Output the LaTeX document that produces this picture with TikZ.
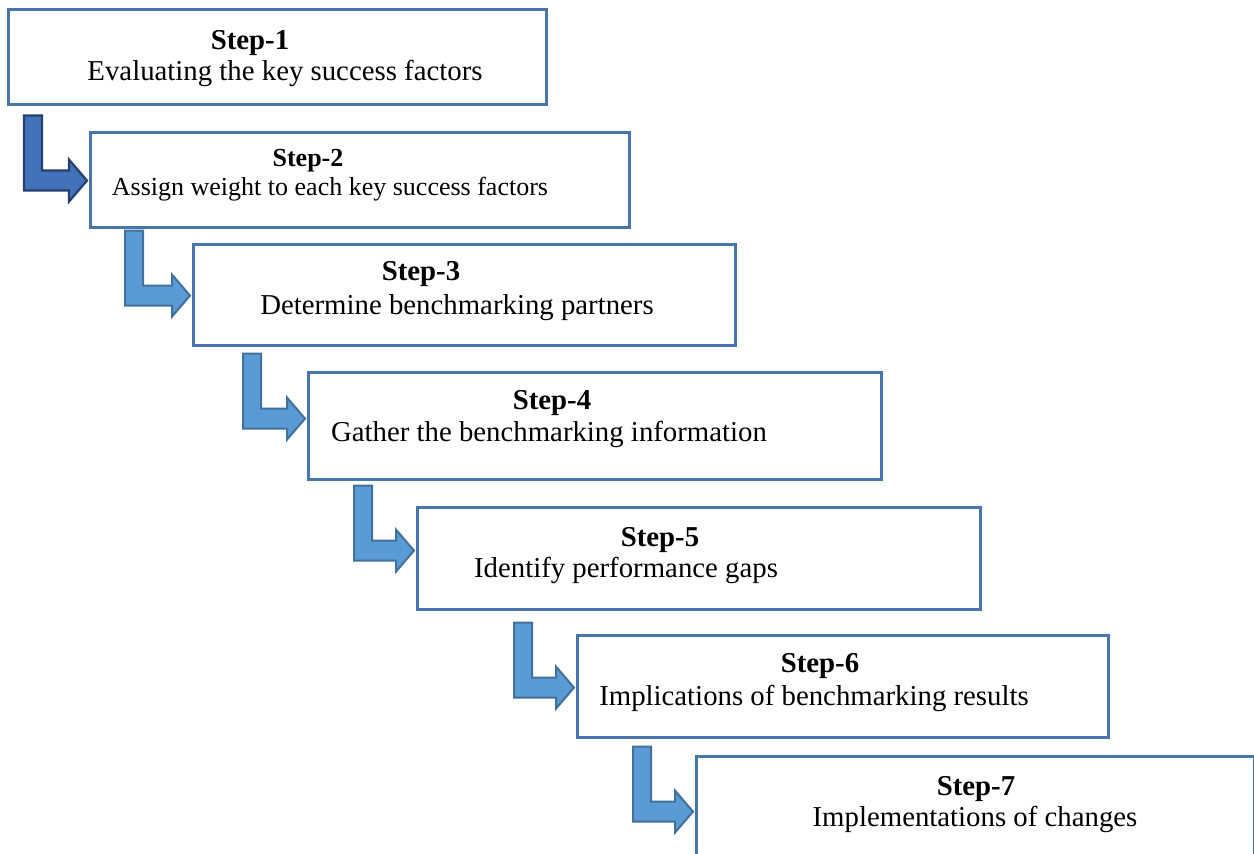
\documentclass[tikz,border=0pt]{standalone}
\usepackage{fontspec}
\setmainfont{Liberation Serif}
\usetikzlibrary{calc}
\definecolor{boxline}{RGB}{72,118,170}
\definecolor{arrfill}{RGB}{91,155,213}
\definecolor{arrline}{RGB}{65,113,156}
\definecolor{darkfill}{RGB}{66,114,186}
\definecolor{darkline}{RGB}{37,64,110}
\newcommand\stepnode[5]{\node[stepbox,minimum width={(#4-#2)*0.5pt},minimum height={(#5-#3)*0.5pt}] (#1) at (#2,#3) {};}
% #1 id, #2 source box, #3 target box, #4 x offset from source west, #5 gap below source, #6 style
\newcommand\bentarrow[6]{%
  \coordinate (#1a) at ($(#2.south west)+(#4,#5)$);
  \coordinate (#1t) at ($(#3.west |- #1a)+(-2,65)$);
  \filldraw[#6] let \p1=(#1a), \p2=(#1t) in
    (\p1) -- (\x1+9pt,\y1) -- (\x1+9pt,\y2+5pt) -- (\x2-9pt,\y2+5pt)
    -- (\x2-9pt,\y2+10.5pt) -- (\p2) -- (\x2-9pt,\y2-10.5pt)
    -- (\x2-9pt,\y2-5pt) -- (\x1,\y2-5pt) -- cycle;
}
\begin{document}
\begin{tikzpicture}[x=0.5pt,y=-0.5pt,
  stepbox/.style={draw=boxline,line width=1.3pt,fill=white,anchor=north west,inner sep=0pt},
  ttl/.style={font=\fontsize{14.4}{16}\selectfont\bfseries,anchor=base,inner sep=0pt},
  dsc/.style={font=\fontsize{14.4}{16}\selectfont,anchor=base,inner sep=0pt},
  ttlsmall/.style={font=\fontsize{13}{15}\selectfont\bfseries,anchor=base,inner sep=0pt},
  dscsmall/.style={font=\fontsize{13}{15}\selectfont,anchor=base,inner sep=0pt},
  lightarrow/.style={fill=arrfill,draw=arrline,line width=1pt,line join=miter},
  darkarrow/.style={fill=darkfill,draw=darkline,line width=1.1pt,line join=miter}]
\clip (0,0) rectangle (1254,854);
\fill[white] (0,0) rectangle (1254,854);

\stepnode{b1}{7}{8}{545}{103}
\stepnode{b2}{89}{131}{628}{226}
\stepnode{b3}{192}{243}{734}{344}
\stepnode{b4}{307}{371}{880}{478}
\stepnode{b5}{416}{506}{979}{608}
\stepnode{b6}{576}{634}{1107}{736}
\stepnode{b7}{695}{755}{1253}{900}

\node[ttl] (t1) at (250,50) {Step-1};
\node[dsc] (d1) at (285,81) {Evaluating the key success factors};
\node[ttlsmall] (t2) at (308,167) {Step-2};
\node[dscsmall] (d2) at (330,196) {Assign weight to each key success factors};
\node[ttl] (t3) at (421,281) {Step-3};
\node[dsc] (d3) at (457,315) {Determine benchmarking partners};
\node[ttl] (t4) at (552,410) {Step-4};
\node[dsc] (d4) at (549,442) {Gather the benchmarking information};
\node[ttl] (t5) at (660,547) {Step-5};
\node[dsc] (d5) at (626,578) {Identify performance gaps};
\node[ttl] (t6) at (820,673) {Step-6};
\node[dsc] (d6) at (814,706) {Implications of benchmarking results};
\node[ttl] (t7) at (976,796) {Step-7};
\node[dsc] (d7) at (975,827) {Implementations of changes};

\bentarrow{A1}{b1}{b2}{17}{10}{darkarrow}
\bentarrow{A2}{b2}{b3}{36}{2}{lightarrow}
\bentarrow{A3}{b3}{b4}{51}{7}{lightarrow}
\bentarrow{A4}{b4}{b5}{47}{5}{lightarrow}
\bentarrow{A5}{b5}{b6}{98}{12}{lightarrow}
\bentarrow{A6}{b6}{b7}{57}{8}{lightarrow}
\end{tikzpicture}
\end{document}
